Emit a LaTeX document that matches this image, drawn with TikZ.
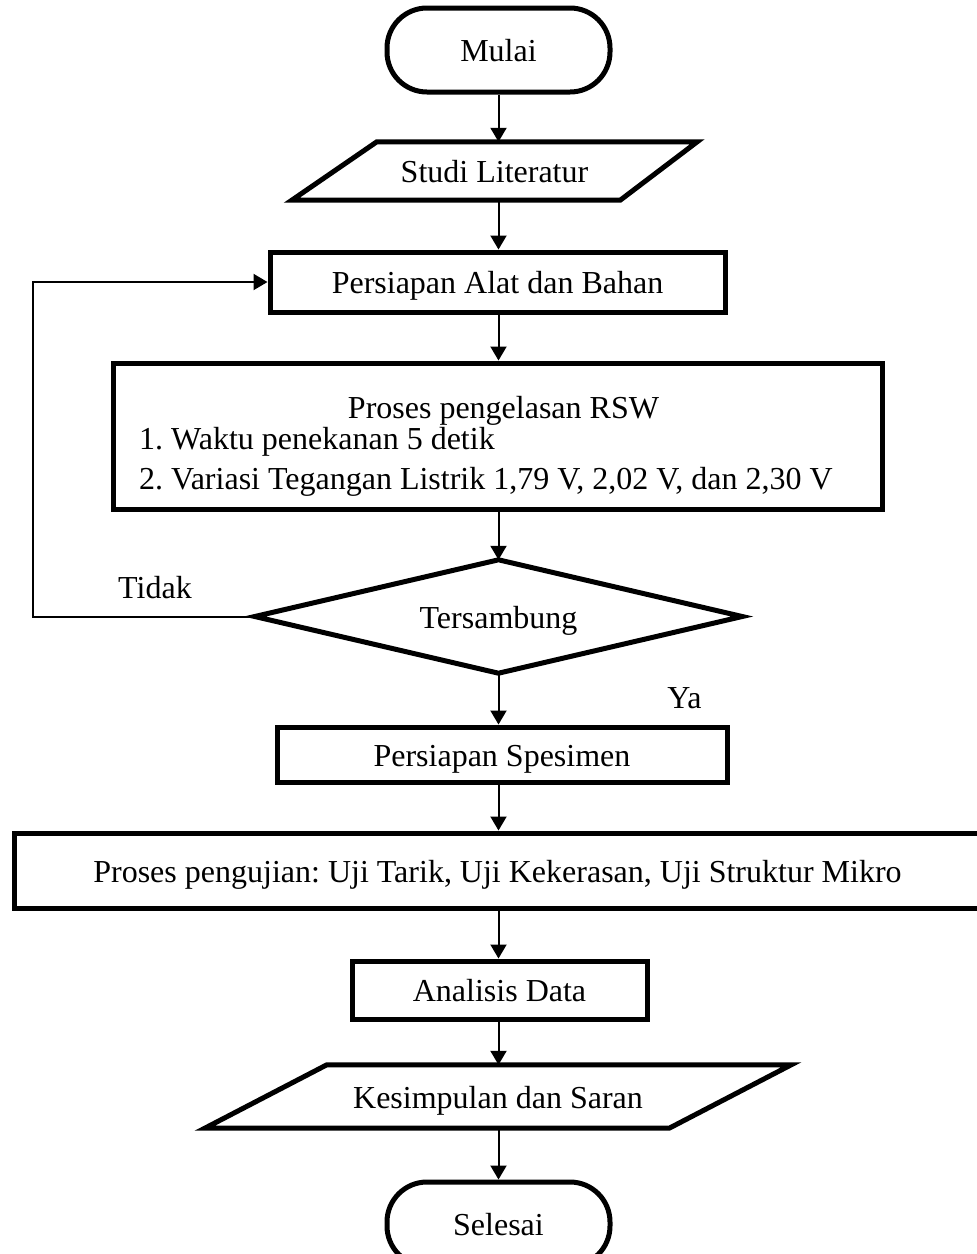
\documentclass[tikz,border=0pt]{standalone}
\usepackage{fontspec}
\setmainfont{Liberation Serif}
\usetikzlibrary{arrows.meta,calc}
\frenchspacing
\begin{document}
\begin{tikzpicture}[x=1pt,y=-1pt,
  every node/.style={font=\fontsize{32}{38}\selectfont},
  term/.style={draw,line width=5pt,rounded corners=40pt,minimum width=223pt,minimum height=84pt,inner sep=0pt,text height=23pt,text depth=0pt},
  proc/.style={draw,line width=5pt,inner sep=0pt,text height=23pt,text depth=0pt},
  txt/.style={inner sep=0pt,text height=23pt,text depth=0pt},
  shapeline/.style={line width=5pt,line join=miter},
  arr/.style={line width=2pt,-{Triangle[length=14pt,width=16pt]}},
  thin/.style={line width=2pt}
]
\useasboundingbox (0,0) rectangle (977,1254);

% nodes
\node[term] (mulai) at (498.5,50) {Mulai};
\node[txt,minimum width=405pt,minimum height=58pt] (studi) at (494.5,171) {Studi Literatur};
\draw[shapeline] (studi.south west) -- ($(studi.north west)+(85,0)$) -- (studi.north east) -- ($(studi.south east)+(-77,0)$) -- cycle;
\node[proc,minimum width=455pt,minimum height=60pt] (alat) at (497.5,282) {Persiapan Alat dan Bahan};
\node[proc,minimum width=769pt,minimum height=146pt] (proses) at (497.5,436) {};
\node[anchor=base,inner sep=0pt] (pt) at (503.5,418) {Proses pengelasan RSW};
\node[anchor=base west,inner sep=0pt] (p1) at (139,449) {1. Waktu penekanan 5 detik};
\node[anchor=base west,inner sep=0pt] (p2) at (139,489) {2. Variasi Tegangan Listrik 1,79 V, 2,02 V, dan 2,30 V};
\node[txt,minimum width=487pt,minimum height=113pt] (cek) at (498.5,616.5) {Tersambung};
\draw[shapeline] (cek.west) -- (cek.north) -- (cek.east) -- (cek.south) -- cycle;
\node[proc,minimum width=450pt,minimum height=55pt] (spes) at (502,754.5) {Persiapan Spesimen};
\node[proc,minimum width=967pt,minimum height=75pt] (uji) at (497.5,870.5) {Proses pengujian: Uji Tarik, Uji Kekerasan, Uji Struktur Mikro};
\node[proc,minimum width=295pt,minimum height=58pt] (analisis) at (499.5,990) {Analisis Data};
\node[txt,minimum width=586pt,minimum height=63pt] (simpul) at (498,1096.5) {Kesimpulan dan Saran};
\draw[shapeline] (simpul.south west) -- ($(simpul.north west)+(122,0)$) -- (simpul.north east) -- ($(simpul.south east)+(-122,0)$) -- cycle;
\node[term] (selesai) at (498.5,1224) {Selesai};

\node[anchor=base,inner sep=0pt] (tidak) at (155,598) {Tidak};
\node[anchor=base,inner sep=0pt] (ya) at (684.5,708) {Ya};

% connectors
\draw[arr] (mulai.south) -- (mulai.south |- studi.north);
\draw[arr] (mulai.south |- studi.south) -- (mulai.south |- alat.north);
\draw[arr] (mulai.south |- alat.south) -- (mulai.south |- proses.north);
\draw[arr] (mulai.south |- proses.south) -- (mulai.south |- cek.north);
\draw[arr] (mulai.south |- cek.south) -- (mulai.south |- spes.north);
\draw[arr] (mulai.south |- spes.south) -- (mulai.south |- uji.north);
\draw[arr] (mulai.south |- uji.south) -- (mulai.south |- analisis.north);
\draw[arr] (mulai.south |- analisis.south) -- (mulai.south |- simpul.north);
\draw[arr] (mulai.south |- simpul.south) -- (selesai.north);
\coordinate (lpx) at (33,0);
\draw[thin,-{Triangle[length=14pt,width=16pt]}] (cek.west) -- (cek.west -| lpx) |- (alat.west);
\end{tikzpicture}
\end{document}
